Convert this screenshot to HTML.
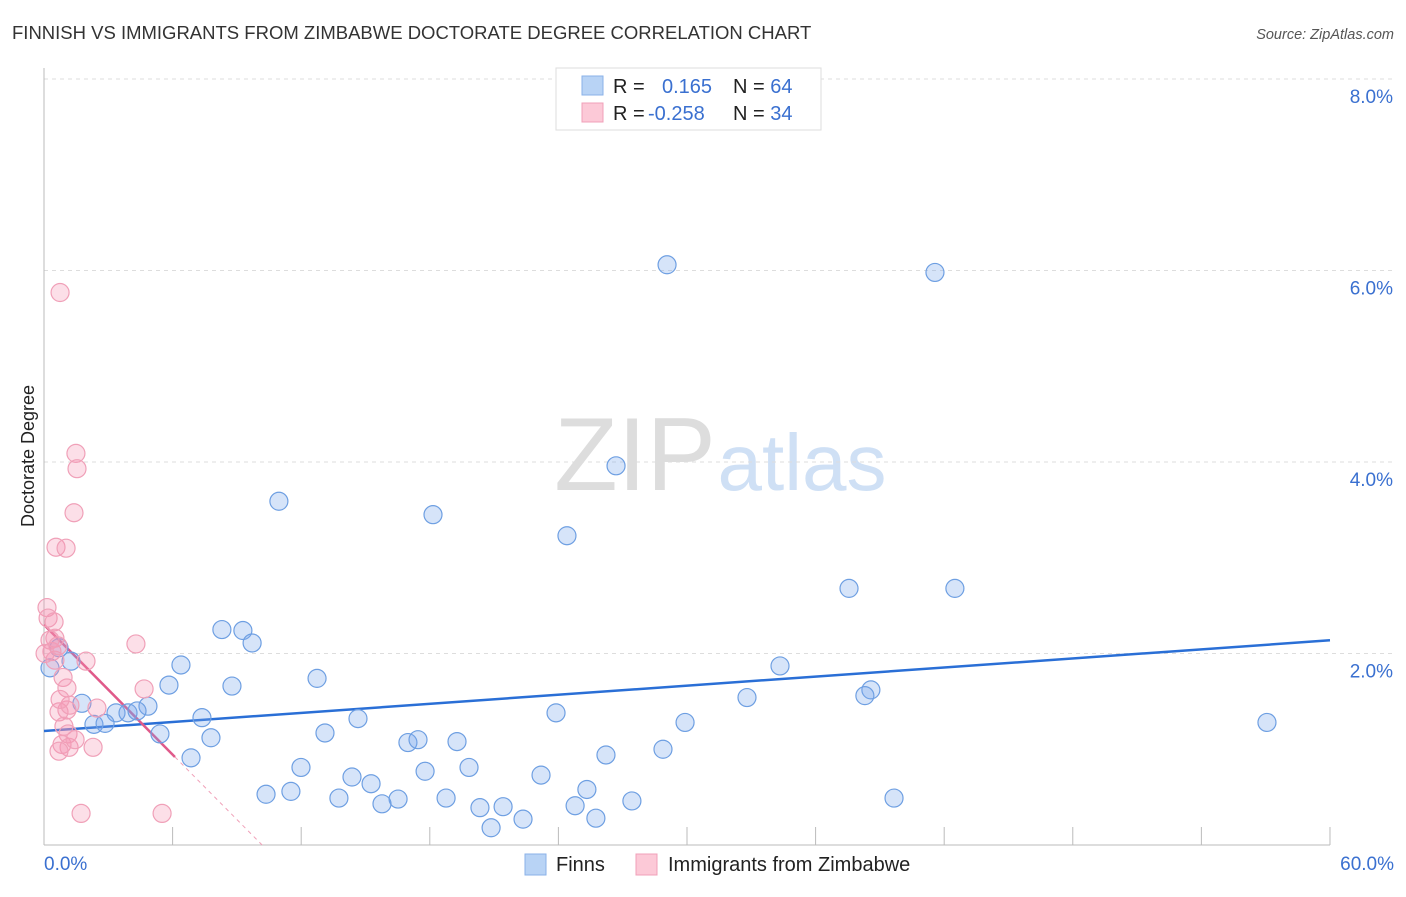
<!DOCTYPE html>
<html><head><meta charset="utf-8"><style>
body{margin:0;background:#fff;font-family:"Liberation Sans",sans-serif;}
svg text{font-family:"Liberation Sans",sans-serif;}
</style></head><body>
<svg id="c" width="1406" height="892">
<text x="12" y="39" font-size="18.5" fill="#333">FINNISH VS IMMIGRANTS FROM ZIMBABWE DOCTORATE DEGREE CORRELATION CHART</text>
<text x="1394" y="39" font-size="14.5" fill="#555" font-style="italic" text-anchor="end">Source: ZipAtlas.com</text>
<text x="34" y="456" font-size="18" fill="#222" text-anchor="middle" transform="rotate(-90 34 456)">Doctorate Degree</text>
<g>
<text x="635" y="490" font-size="104" fill="#ddd" font-family="Liberation Serif" text-anchor="middle">ZIP</text>
<text x="802" y="490" font-size="80" fill="#cfe0f5" text-anchor="middle">atlas</text>
</g>
<g id="grid"></g><g id="axes"></g><g id="trend"></g><g id="pts"></g>
<g>
<rect x="556" y="68" width="265" height="62" fill="#fff" stroke="#ddd"/>
<rect x="582" y="76" width="21" height="19" fill="#b8d3f5" stroke="#8ab2e8"/>
<rect x="582" y="103" width="21" height="19" fill="#fcc9d7" stroke="#f0a0b8"/>
<text x="613" y="93" font-size="20" fill="#222">R = <tspan x="662" fill="#3a70d0">0.165</tspan><tspan x="733" fill="#222">N = </tspan><tspan fill="#3a70d0">64</tspan></text>
<text x="613" y="120" font-size="20" fill="#222">R = <tspan x="648" fill="#3a70d0">-0.258</tspan><tspan x="733" fill="#222">N = </tspan><tspan fill="#3a70d0">34</tspan></text>
</g>
<g>
<rect x="525" y="854" width="21" height="21" fill="#b8d3f5" stroke="#8ab2e8"/>
<text x="556" y="871" font-size="20" fill="#222">Finns</text>
<rect x="636" y="854" width="21" height="21" fill="#fcc9d7" stroke="#f0a0b8"/>
<text x="668" y="871" font-size="20" fill="#222">Immigrants from Zimbabwe</text>
</g>
</svg>
<script>
const blueX=[29.07,41.57,26.69,10.96,18.15,24.40,37.56,42.50,8.30,9.28,9.71,6.39,34.34,0.70,1.26,0.28,5.83,8.77,12.74,38.58,38.30,32.80,1.77,4.85,3.36,3.92,4.34,2.33,2.85,7.37,14.65,23.89,29.91,57.06,5.41,7.79,13.11,16.98,17.45,19.27,28.88,26.22,6.86,11.99,19.83,17.78,23.19,14.37,15.26,25.33,10.36,11.52,13.76,16.52,15.77,18.76,24.78,27.43,39.66,20.34,21.42,25.75,22.35,20.86];
const blueY=[6.06,5.98,3.96,3.59,3.45,3.23,2.68,2.68,2.25,2.24,2.11,1.88,1.87,2.06,1.92,1.85,1.67,1.66,1.74,1.62,1.56,1.54,1.48,1.45,1.38,1.38,1.40,1.26,1.27,1.33,1.32,1.38,1.28,1.28,1.16,1.12,1.17,1.07,1.10,1.08,1.00,0.94,0.91,0.81,0.81,0.77,0.73,0.71,0.64,0.58,0.53,0.56,0.49,0.48,0.43,0.49,0.41,0.46,0.49,0.39,0.40,0.28,0.27,0.18];
const pinkX=[0.75,1.49,1.54,1.40,0.56,1.03,0.14,0.19,0.47,0.51,4.29,0.37,0.51,1.96,0.89,1.07,4.67,2.47,1.07,0.70,0.93,1.12,0.84,1.17,2.29,0.70,1.73,5.51,0.28,0.65,1.21,0.75,0.05,1.45];
const pinkY=[5.77,4.09,3.93,3.47,3.11,3.10,2.48,2.37,2.33,2.16,2.10,2.02,1.93,1.92,1.75,1.64,1.63,1.43,1.41,1.39,1.24,1.16,1.05,1.02,1.02,0.98,0.33,0.33,2.14,2.08,1.46,1.52,2.00,1.10];
const yTicks=[2,4,6,8];
const yTickLabels=["2.0%","4.0%","6.0%","8.0%"];
const xTicks=[0,6,12,18,24,30,36,42,48,54,60];
const blueTrend=[1.19,0.0158]; // intercept, slope
const pinkTrend=[2.30,-0.226];
const pinkSolidEnd=6.11;
const X=v=>44+v*21.433, Y=v=>845-v*95.75;
const NS="http://www.w3.org/2000/svg";
function mk(p,t,a){const e=document.createElementNS(NS,t);for(const k in a)e.setAttribute(k,a[k]);p.appendChild(e);return e;}
const grid=document.getElementById('grid'),axes=document.getElementById('axes'),tr=document.getElementById('trend'),pts=document.getElementById('pts');
yTicks.forEach((v,i)=>{
 const l=mk(grid,'line',{x1:44,x2:1394,y1:Y(v),y2:Y(v),stroke:'#ddd','stroke-dasharray':'4,4'});
 
 
 const t=mk(grid,'text',{x:1393,y:Y(v)+24,'font-size':19,fill:'#3a70d0','text-anchor':'end'});
 t.textContent=yTickLabels[i];
 
 
});
const ax=mk(axes,'line',{x1:44,x2:44,y1:68,y2:845,stroke:'#bbb'});


const bx=mk(axes,'line',{x1:44,x2:1330,y1:845,y2:845,stroke:'#bbb'});


xTicks.slice(1).forEach(v=>{
 const t=mk(axes,'line',{x1:X(v),x2:X(v),y1:827,y2:845,stroke:'#bbb'});
 
 
});
const xl0=mk(axes,'text',{x:44,y:870,'font-size':19,fill:'#3a70d0'});xl0.textContent=xTicks[0].toFixed(1)+'%';


const xl1=mk(axes,'text',{x:1394,y:870,'font-size':19,fill:'#3a70d0','text-anchor':'end'});xl1.textContent=xTicks[xTicks.length-1].toFixed(1)+'%';


blueX.forEach((v,i)=>{
 const c=mk(pts,'circle',{cx:X(v),cy:Y(blueY[i]),r:9,fill:'rgba(120,165,235,0.3)',stroke:'#6e9fe2','stroke-width':1.2});
 
 
});
pinkX.forEach((v,i)=>{
 const c=mk(pts,'circle',{cx:X(v),cy:Y(pinkY[i]),r:9,fill:'rgba(245,150,180,0.3)',stroke:'#f0a0b8','stroke-width':1.2});
 
 
});
const bl=mk(tr,'line',{x1:X(0),y1:Y(blueTrend[0]),x2:X(60),y2:Y(blueTrend[0]+60*blueTrend[1]),stroke:'#2a6fd6','stroke-width':2.5});


const pz=-pinkTrend[0]/pinkTrend[1];
const pl=mk(tr,'line',{x1:X(0),y1:Y(pinkTrend[0]),x2:X(pinkSolidEnd),y2:Y(pinkTrend[0]+pinkSolidEnd*pinkTrend[1]),stroke:'#e05a8a','stroke-width':2.5});


const pd=mk(tr,'line',{x1:X(pinkSolidEnd),y1:Y(pinkTrend[0]+pinkSolidEnd*pinkTrend[1]),x2:X(pz),y2:Y(0),stroke:'#f0a0b8','stroke-width':1,'stroke-dasharray':'4,4'});


</script>
</body></html>
